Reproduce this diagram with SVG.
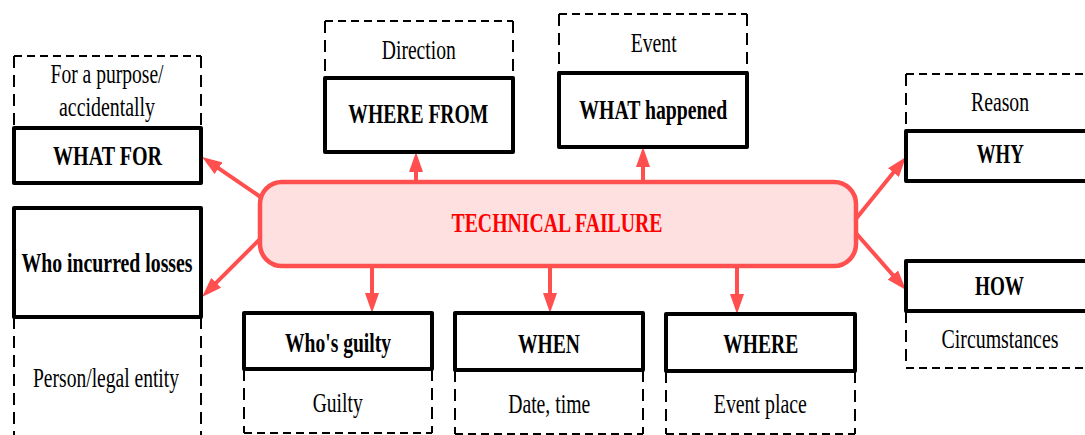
<svg xmlns="http://www.w3.org/2000/svg" width="1085" height="435" viewBox="0 0 1085 435" font-family="Liberation Serif, Tinos, Nimbus Roman, DejaVu Serif, Noto Serif, FreeSerif, Times New Roman, serif">
<style>
.bg{fill:#fff}
.dh{fill:none;stroke:#000;stroke-width:2;stroke-dasharray:8 5}
.dv{fill:none;stroke:#000;stroke-width:2;stroke-dasharray:12 7}
.solid{fill:#fff;stroke:#000;stroke-width:4;stroke-linejoin:round}
.t{fill:#000;text-anchor:middle}
.r{font-size:27px}
.b{font-size:28px;font-weight:bold}
.center{fill:#FFE0E0;stroke:#FF4F4F;stroke-width:4.5}
.ct{font-size:28px;font-weight:bold;fill:#FF0000;text-anchor:middle}
.c{fill:none;stroke:#FF4F4F;stroke-width:4;marker-end:url(#ah)}
</style>
<defs>
<marker id="ah" markerUnits="userSpaceOnUse" markerWidth="20" markerHeight="14" refX="10" refY="7" orient="auto" viewBox="0 0 20 14">
<path d="M0,0 L20,7 L0,14 z" fill="#FF4F4F"/>
</marker>
</defs>
<rect class="bg" x="0" y="0" width="1085" height="435"/>

<g id="connectors">
<path class="c" d="M416,182 L416,162"/>
<path class="c" d="M643,182 L643,157"/>
<path class="c" d="M372,266 L372,303"/>
<path class="c" d="M550,266 L550,303"/>
<path class="c" d="M737,266 L737,304"/>
<path class="c" d="M262,198 L210.3,162.6"/>
<path class="c" d="M262,237 L209.1,289.9"/>
<path class="c" d="M855,220 L899.7,164.8"/>
<path class="c" d="M855,232 L899.4,282.5"/>
</g>

<g id="center">
<rect class="center" x="260" y="182" width="596" height="84" rx="22" ry="22"/>
<text class="ct" x="557" y="231.7" textLength="211" lengthAdjust="spacingAndGlyphs">TECHNICAL FAILURE</text>
</g>

<g id="what-for">
<path class="dh" d="M14,56 L201,56"/>
<path class="dv" d="M14,56 L14,128 M201,56 L201,128"/>
<rect class="solid" x="14" y="128" width="187" height="55"/>
<text class="t r" x="107" y="82.7" textLength="113" lengthAdjust="spacingAndGlyphs">For a purpose/</text>
<text class="t r" x="107" y="115.5" textLength="96" lengthAdjust="spacingAndGlyphs">accidentally</text>
<text class="t b" x="107.5" y="165" textLength="109" lengthAdjust="spacingAndGlyphs">WHAT FOR</text>
</g>

<g id="who-incurred">
<path class="dv" d="M14,317 L14,440 M201,317 L201,440"/>
<rect class="solid" x="14" y="208" width="187" height="109"/>
<text class="t b" x="107" y="271.7" textLength="171" lengthAdjust="spacingAndGlyphs">Who incurred losses</text>
<text class="t r" x="106" y="386.5" textLength="146" lengthAdjust="spacingAndGlyphs">Person/legal entity</text>
</g>

<g id="where-from">
<path class="dh" d="M325,21 L513,21"/>
<path class="dv" d="M325,21 L325,78 M513,21 L513,78"/>
<rect class="solid" x="325" y="78" width="188" height="74"/>
<text class="t r" x="418.8" y="59.3" textLength="74" lengthAdjust="spacingAndGlyphs">Direction</text>
<text class="t b" x="418.3" y="122.7" textLength="140" lengthAdjust="spacingAndGlyphs">WHERE FROM</text>
</g>

<g id="what-happened">
<path class="dh" d="M559,14 L747,14"/>
<path class="dv" d="M559,14 L559,73 M747,14 L747,73"/>
<rect class="solid" x="559" y="73" width="188" height="74"/>
<text class="t r" x="653.7" y="51.7" textLength="46" lengthAdjust="spacingAndGlyphs">Event</text>
<text class="t b" x="653.3" y="118.5" textLength="148" lengthAdjust="spacingAndGlyphs">WHAT happened</text>
</g>

<g id="why">
<path class="dh" d="M906,74 L1094,74"/>
<path class="dv" d="M906,74 L906,131 M1094,74 L1094,131"/>
<rect class="solid" x="906" y="131" width="188" height="50"/>
<text class="t r" x="1000" y="111" textLength="58" lengthAdjust="spacingAndGlyphs">Reason</text>
<text class="t b" x="1000.3" y="163.3" textLength="47" lengthAdjust="spacingAndGlyphs">WHY</text>
</g>

<g id="how">
<path class="dh" d="M906,368 L1094,368"/>
<path class="dv" d="M906,311 L906,368 M1094,311 L1094,368"/>
<rect class="solid" x="906" y="261" width="188" height="50"/>
<text class="t b" x="999.5" y="295" textLength="49" lengthAdjust="spacingAndGlyphs">HOW</text>
<text class="t r" x="1000" y="348.3" textLength="117" lengthAdjust="spacingAndGlyphs">Circumstances</text>
</g>

<g id="whos-guilty">
<path class="dh" d="M244,433 L432,433"/>
<path class="dv" d="M244,369 L244,433 M432,369 L432,433"/>
<rect class="solid" x="244" y="313" width="188" height="56"/>
<text class="t b" x="338" y="351.7" textLength="106" lengthAdjust="spacingAndGlyphs">Who's guilty</text>
<text class="t r" x="337.7" y="411.7" textLength="50" lengthAdjust="spacingAndGlyphs">Guilty</text>
</g>

<g id="when">
<path class="dh" d="M455,434 L643,434"/>
<path class="dv" d="M455,370 L455,434 M643,370 L643,434"/>
<rect class="solid" x="455" y="313" width="188" height="57"/>
<text class="t b" x="549" y="352.7" textLength="62" lengthAdjust="spacingAndGlyphs">WHEN</text>
<text class="t r" x="549.2" y="412.7" textLength="82" lengthAdjust="spacingAndGlyphs">Date, time</text>
</g>

<g id="where">
<path class="dh" d="M666,434 L855,434"/>
<path class="dv" d="M666,371 L666,434 M855,371 L855,434"/>
<rect class="solid" x="666" y="314" width="189" height="57"/>
<text class="t b" x="760.8" y="353" textLength="75" lengthAdjust="spacingAndGlyphs">WHERE</text>
<text class="t r" x="760.3" y="412.7" textLength="93" lengthAdjust="spacingAndGlyphs">Event place</text>
</g>
</svg>
